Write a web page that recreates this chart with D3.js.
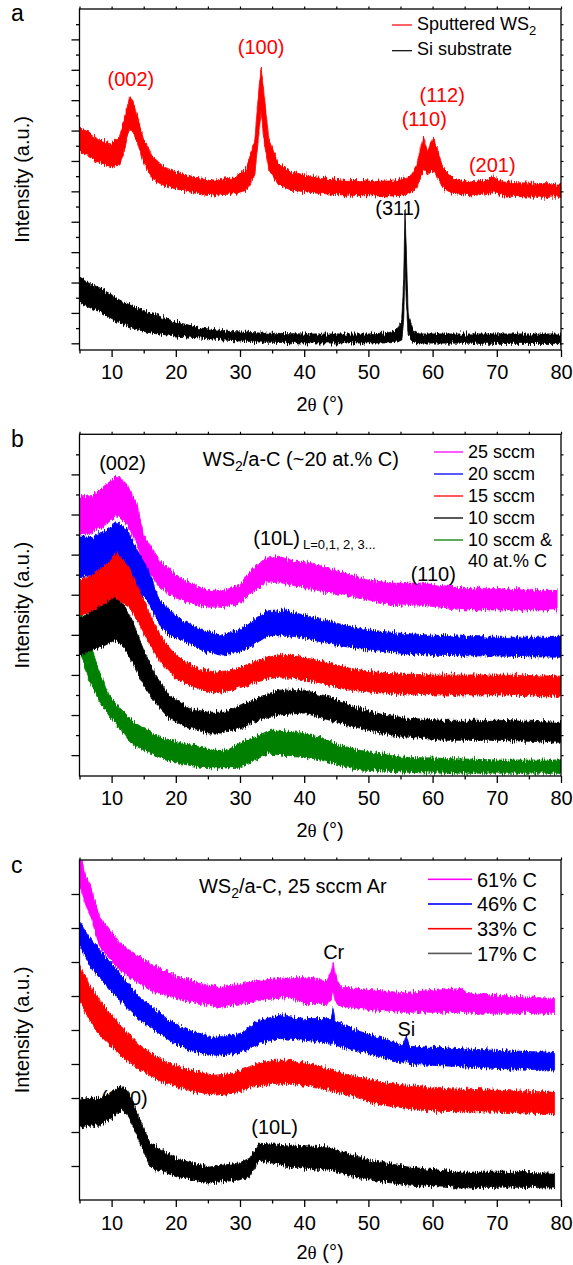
<!DOCTYPE html>
<html><head><meta charset="utf-8">
<script src="https://cdn.jsdelivr.net/npm/d3@7"></script>
<style>
body{margin:0;background:#fff}
text{font-family:"Liberation Sans",Arial,sans-serif}
</style>
</head><body>
<svg id="chart" width="573" height="1265"></svg>
<script>
// ---------------- DATA ----------------
const xTicksMajor = [10, 20, 30, 40, 50, 60, 70, 80];
const xTicksMinor = [5, 15, 25, 35, 45, 55, 65, 75];
const xTickLabels = ["10", "20", "30", "40", "50", "60", "70", "80"];

// each point: [2theta (deg), lower edge of noisy trace, upper edge] (intensity a.u.)
// Panel a
const aWS2 = [[5,62.9,70.8],[6.5,61.3,69.5],[8,59.6,66.9],[10,58.0,65.9],[11.3,58.7,68.5],[12,63.6,74.1],[12.8,70.8,81.0],[13.3,69.5,80.0],[14,66.2,75.1],[15,59.3,66.9],[16.5,53.7,61.3],[18,52.1,58.3],[20,50.8,56.3],[23,49.4,54.7],[26,48.8,53.7],[29,49.1,54.4],[31,50.4,57.7],[32.3,55.4,66.9],[33,70.2,85.0],[33.3,76.7,90.6],[33.7,66.9,83.3],[34.5,57.0,66.9],[36,52.1,59.3],[38,50.4,56.3],[42,49.4,54.7],[46,48.8,53.7],[50,48.5,53.4],[54,48.5,53.4],[56.5,49.1,55.0],[57.5,51.1,58.7],[58.1,54.4,64.2],[58.6,57.0,67.9],[59.2,55.4,63.0],[60.1,57.0,67.9],[60.8,54.4,63.6],[61.6,51.1,57.7],[63,49.4,54.4],[66,48.5,53.1],[68,49.1,53.7],[69.5,49.8,55.0],[71,48.5,53.1],[75,48.1,52.7],[80,48.1,52.4]];
const aSi = [[5,13.3,21.5],[6.5,11.8,19.8],[8.2,10.3,18.2],[10,8.2,16.0],[11.3,6.7,14.2],[13.5,4.8,12.0],[16,3.4,10.0],[20,2.4,7.0],[24,1.7,5.0],[28,1.0,4.0],[33,0.4,3.4],[40,0.1,3.1],[50,0.1,3.1],[53,0.1,3.4],[54.5,0.4,4.4],[55.2,1.1,7.7],[55.5,7.7,20.8],[55.7,27.4,43.9],[55.9,14.2,30.7],[56.2,2.7,9.3],[57,0.4,4.4],[58,0.1,3.1],[80,-0.1,3.1]];

// Panel b
const b25 = [[5,54.9,64.3],[7,55.4,64.8],[9,57.4,67.3],[11,59.9,69.8],[12.5,57.4,67.3],[14,52.4,62.3],[15,47.4,54.9],[17.5,41.9,48.6],[20,39.2,44.9],[22.2,37.9,42.9],[25,36.9,41.1],[27.5,36.9,41.1],[30,37.9,42.4],[32,40.6,46.6],[34,43.1,49.1],[36,43.1,49.6],[38,42.4,48.6],[42,41.1,47.4],[46,39.9,45.6],[50,38.7,43.6],[54,37.4,42.9],[58,37.4,42.9],[61,36.9,42.4],[65,36.2,41.6],[70,36.2,41.6],[75,36.2,41.1],[79.4,36.2,41.1]];
const b20 = [[5,44.4,54.4],[7,44.9,54.4],[9,46.1,56.1],[10.8,48.1,58.1],[12.5,46.1,56.1],[14,41.1,51.1],[15.5,38.7,46.9],[17.5,32.4,38.7],[19,29.9,36.2],[21,28.7,33.7],[24,26.2,31.2],[27,24.9,29.9],[30,25.7,31.2],[32,27.4,33.7],[34,29.4,35.7],[37,29.9,36.2],[40,29.2,34.9],[45,27.4,32.9],[50,26.2,31.2],[55,25.4,30.4],[60,24.9,29.9],[70,24.7,29.4],[80,24.4,29.4]];
const b15 = [[5,34.9,43.6],[7,35.7,44.9],[9,37.4,47.4],[10.8,38.7,50.4],[12.5,37.4,47.4],[14,33.7,42.4],[16,27.4,34.9],[18,22.4,28.7],[20,19.2,24.9],[23,16.7,21.9],[26,15.5,20.7],[29,16.2,21.2],[32,18.0,23.2],[35,19.2,24.9],[38,19.2,24.9],[42,18.2,23.7],[47,16.2,21.7],[52,15.5,20.4],[60,15.0,20.0],[70,15.0,20.0],[80,14.7,19.7]];
const b10 = [[5,24.9,34.2],[7,26.2,35.7],[9,27.4,37.9],[10.5,28.7,39.2],[12,26.7,37.4],[13.5,22.4,32.4],[15,17.5,26.2],[17,12.5,19.5],[19,9.2,15.0],[22,6.7,11.7],[25,5.5,10.7],[27,5.5,10.7],[30,6.7,12.2],[33,8.7,14.5],[36,10.0,16.2],[40,10.5,16.2],[44,8.7,14.5],[48,7.0,12.0],[52,5.5,10.2],[56,4.5,9.2],[62,3.7,8.7],[70,3.7,8.7],[80,3.2,8.2]];
const b10c40 = [[5,26.2,37.4],[6.5,18.7,28.7],[8,13.7,21.2],[9.75,9.5,14.5],[11.5,6.2,11.2],[13,3.0,8.7],[15,1.2,6.7],[17.5,-0.5,4.5],[21,-2.2,3.0],[23.8,-3.0,2.0],[26,-3.2,1.2],[28,-3.2,1.2],[30,-3.0,3.0],[33,-0.7,5.0],[34.6,0.5,6.2],[36.3,0.0,6.2],[39,-0.2,5.7],[42.5,-1.2,4.5],[45.5,-2.5,2.5],[48.7,-3.7,1.2],[55,-4.2,-0.5],[60,-4.5,-0.7],[70,-4.5,-1.2],[80,-4.5,-1.2]];

// Panel c
const c61 = [[5,82.4,92],[6,76.6,85.4],[6.6,74.2,83.0],[8.2,64.2,73.0],[11.3,57.5,65.4],[16,51.6,59.5],[20,49.3,56.0],[23.8,47.8,53.7],[26.9,46.6,52.5],[33,48.7,54.6],[37.6,49.6,55.4],[40,47.8,55.4],[43.5,47.8,54.6],[44.2,48.7,57.5],[44.5,51.6,59.8],[44.8,48.7,56.9],[45.5,47.2,53.1],[47,46.6,52.5],[55,45.2,51.0],[64.5,45.2,52.2],[65.5,44.9,50.7],[79,44.9,49.3]];
const c46 = [[5,64.8,72.2],[6.6,59.0,67.2],[8.2,55.1,63.4],[11.3,48.7,56.6],[14.4,42.8,49.6],[19,37.0,42.8],[22,34.0,39.9],[26,32.6,37.8],[30,33.1,39.0],[33,36.1,42.8],[36,37.5,44.3],[40,37.0,43.4],[44.2,36.1,43.4],[44.5,37.0,46.3],[44.8,35.5,42.8],[48,34.0,39.9],[52,32.0,37.8],[55.4,30.2,35.5],[55.9,31.1,38.5],[56.4,29.9,35.2],[60,29.6,34.9],[70,28.7,34.0],[79,28.2,33.4]];
const c33 = [[5,48.7,59.0],[6.6,42.8,53.1],[8.2,38.4,48.7],[11.3,32.6,41.4],[14.4,28.2,35.5],[18,24.6,31.1],[22,22.3,28.2],[26,20.8,26.7],[29,21.4,27.3],[32,23.2,29.6],[35,24.3,31.1],[38,24.3,31.1],[42,23.2,29.6],[47,20.8,26.7],[52,17.9,24.6],[60,16.1,22.9],[70,15.8,22.3],[79,15.3,21.7]];
const c17 = [[5,11.4,19.4],[6.5,12.0,19.9],[8.2,12.0,19.9],[10,14.1,21.7],[11.5,16.4,23.8],[12.5,15.0,22.3],[13.8,9.7,16.4],[16,-0.3,6.7],[20.6,-3.5,1.8],[25.2,-5.0,-0.3],[29.9,-4.1,0.9],[31.5,-2.9,2.3],[33,1.8,6.7],[37.6,-0.3,6.2],[43.8,-1.2,5.6],[50,-4.1,1.8],[56.2,-5.6,-0.3],[64,-6.5,-1.8],[71.7,-6.2,-1.8],[79,-6.5,-2.1]];

// series names
const namesA = ["Sputtered WS", "Si substrate"];
const namesB = ["25 sccm", "20 sccm", "15 sccm", "10 sccm", "10 sccm &"];
const namesC = ["61% C", "46% C", "33% C", "17% C"];

// annotations: [text, 2theta, intensity]
const annA = [["(002)",13.0,84.8,"#ff0000"],["(100)",33.3,95.2,"#ff0000"],["(112)",61.5,79.5,"#ff0000"],["(110)",58.7,71.5,"#ff0000"],["(201)",69.3,56.3,"#ff0000"],["(311)",54.6,42.2,"#000"]];
const annB = [["(002)",11.7,71.2],["(110)",60.1,43.4]];
const annC = [["Cr",44.6,61.0],["Si",55.9,38.1],["(200)",12.0,17.9],["(10L)",35.4,9.4]];

// ---------------- LAYOUT / STYLE ----------------
const RED = "#ff0000", BLK = "#000000", MAG = "#ff00ff", BLU = "#0000ff", GRN = "#008000";
const svg = d3.select("#chart");
const x = d3.scaleLinear().domain([5, 80]).range([79.5, 561]);

// rough-edge filter to render the noisy diffractogram texture
const defs = svg.append("defs");
const flt = defs.append("filter").attr("id", "noisy")
  .attr("x", "-2%").attr("y", "-30%").attr("width", "104%").attr("height", "160%");
flt.append("feTurbulence").attr("type", "fractalNoise").attr("baseFrequency", "0.9 0.12")
  .attr("numOctaves", 2).attr("seed", 7).attr("result", "t");
flt.append("feColorMatrix").attr("in", "t").attr("type", "matrix")
  .attr("values", "0 0 0 0 0.5  0 1 0 0 0  0 0 0 0 0  0 0 0 0 1").attr("result", "m");
flt.append("feDisplacementMap").attr("in", "SourceGraphic").attr("in2", "m")
  .attr("scale", 9).attr("xChannelSelector", "R").attr("yChannelSelector", "G");

const panels = [
  {letter:"a", top:9, bottom:350, yDomain:[-2.2,110], yMajor:d3.range(0,101,10), yMinor:d3.range(5,110,10),
   series:[{d:aSi,c:BLK},{d:aWS2,c:RED}], ann:annA},
  {letter:"b", top:434.3, bottom:776, yDomain:[-5.2,80], yMajor:d3.range(0,71,10), yMinor:d3.range(5,80,10),
   series:[{d:b10c40,c:GRN},{d:b25,c:MAG},{d:b20,c:BLU},{d:b15,c:RED},{d:b10,c:BLK}], ann:annB},
  {letter:"c", top:860, bottom:1200, yDomain:[-10,90], yMajor:d3.range(0,81,10), yMinor:[],
   series:[{d:c17,c:BLK},{d:c33,c:RED},{d:c46,c:BLU},{d:c61,c:MAG}], ann:annC}
];

const FONT = "Liberation Sans, Arial, sans-serif";
const x0 = x.range()[0], x1 = x.range()[1];

panels.forEach(p => {
  const y = d3.scaleLinear().domain(p.yDomain).range([p.bottom, p.top]);
  p.y = y;
  const clipId = "clip-" + p.letter;
  defs.append("clipPath").attr("id", clipId).append("rect")
    .attr("x", x0).attr("y", p.top).attr("width", x1 - x0).attr("height", p.bottom - p.top);

  const area = d3.area().x(d => x(d[0])).y0(d => y(d[1])).y1(d => y(d[2]));
  const gs = svg.append("g").attr("clip-path", `url(#${clipId})`);
  p.series.forEach(s => {
    gs.append("path").datum(s.d).attr("d", area)
      .attr("fill", s.c).attr("stroke", s.c).attr("stroke-width", 0.8)
      .attr("stroke-linejoin", "round").attr("filter", "url(#noisy)");
  });

  // bottom axis with labels
  const gb = svg.append("g").attr("transform", `translate(0,${p.bottom})`)
    .call(d3.axisBottom(x).tickValues(xTicksMajor).tickSize(7).tickFormat((d,i) => xTickLabels[i]));
  gb.select(".domain").remove();
  gb.selectAll("line").attr("stroke-width", 1.3);
  gb.selectAll("text").attr("y", p.letter === "c" ? 30 : 29).attr("dy", null)
    .attr("font-size", 20).attr("font-family", FONT).attr("fill", "#000");
  const gbm = svg.append("g").attr("transform", `translate(0,${p.bottom})`)
    .call(d3.axisBottom(x).tickValues(xTicksMinor).tickSize(3.5).tickFormat(""));
  gbm.select(".domain").remove();
  gbm.selectAll("line").attr("stroke-width", 1.3);

  // top axis small ticks
  const gt = svg.append("g").attr("transform", `translate(0,${p.top})`)
    .call(d3.axisTop(x).tickValues(xTicksMajor.concat(xTicksMinor)).tickSize(2.5).tickFormat(""));
  gt.select(".domain").remove();
  gt.selectAll("line").attr("stroke-width", 1.2);

  // left axis
  const gl = svg.append("g").attr("transform", `translate(${x0},0)`)
    .call(d3.axisLeft(y).tickValues(p.yMajor).tickSize(8).tickFormat(""));
  gl.select(".domain").remove();
  gl.selectAll("line").attr("stroke-width", 1.3);
  if (p.yMinor.length) {
    const glm = svg.append("g").attr("transform", `translate(${x0},0)`)
      .call(d3.axisLeft(y).tickValues(p.yMinor).tickSize(3.5).tickFormat(""));
    glm.select(".domain").remove();
    glm.selectAll("line").attr("stroke-width", 1.3);
  }
  // right axis small ticks
  const gr = svg.append("g").attr("transform", `translate(${x1},0)`)
    .call(d3.axisRight(y).tickValues(p.yMajor.concat(p.yMinor)).tickSize(2.5).tickFormat(""));
  gr.select(".domain").remove();
  gr.selectAll("line").attr("stroke-width", 1.2);

  // frame
  svg.append("rect").attr("x", x0).attr("y", p.top).attr("width", x1 - x0).attr("height", p.bottom - p.top)
    .attr("fill", "none").attr("stroke", "#000").attr("stroke-width", 1.3);

  // x title
  const xt = svg.append("text").attr("x", 320).attr("y", p.bottom + (p.letter === "c" ? 59 : 61))
    .attr("text-anchor", "middle").attr("font-size", 20);
  xt.append("tspan").text("2");
  xt.append("tspan").attr("font-family", "Liberation Serif, serif").attr("font-size", 19).text("\u03b8");
  xt.append("tspan").text(" (\u00b0)");

  // y title
  svg.append("text").attr("transform", `translate(29,${(p.top + p.bottom) / 2}) rotate(-90)`)
    .attr("text-anchor", "middle").attr("font-size", 20).text("Intensity (a.u.)");

  // panel letter
  svg.append("text").attr("x", 11).attr("y", p.top + (p.letter === "a" ? 12 : 13))
    .attr("font-size", 23).text(p.letter);

  // annotations
  p.ann.forEach(a => {
    svg.append("text").attr("x", x(a[1])).attr("y", y(a[2])).attr("text-anchor", "middle")
      .attr("font-size", 20).attr("fill", a[3] || "#000").text(a[0]);
  });
});

function legendLine(xa, xb, yy, col, w) {
  svg.append("rect").attr("x", xa).attr("width", xb - xa).attr("y", yy - w / 2).attr("height", w)
    .attr("fill", col).attr("stroke", "none");
}

// ---- panel a legend ----
{
  const items = [{n:namesA[0], c:RED, ly:25, ty:29.5, sub:true}, {n:namesA[1], c:BLK, ly:50.7, ty:55}];
  items.forEach(it => {
    legendLine(392, 412, it.ly, it.c, 1.2);
    const t = svg.append("text").attr("x", 417).attr("y", it.ty).attr("font-size", 18).text(it.n);
    if (it.sub) t.append("tspan").attr("dy", 5).attr("font-size", 13).text("2");
  });
}

// ---- panel b legend + notes ----
{
  const y = panels[1].y;
  const cols = [MAG, BLU, RED, BLK, GRN];
  namesB.forEach((n, i) => {
    const ly = 452 + i * 22;
    legendLine(434, 463, ly, cols[i], 1.3);
    svg.append("text").attr("x", 468).attr("y", ly + 5.5).attr("font-size", 18).text(n);
  });
  svg.append("text").attr("x", 468).attr("y", 567).attr("font-size", 18).text("40 at.% C");

  const t = svg.append("text").attr("x", x(24.2)).attr("y", y(72.1)).attr("font-size", 20);
  t.append("tspan").text("WS");
  t.append("tspan").attr("dy", 5).attr("font-size", 14).text("2");
  t.append("tspan").attr("dy", -5).text("/a-C (~20 at.% C)");

  svg.append("text").attr("x", x(35.7)).attr("y", y(52.4)).attr("font-size", 20).attr("text-anchor","middle").text("(10L)");
  svg.append("text").attr("x", 303).attr("y", y(52.4) + 4).attr("font-size", 13).text("L=0,1, 2, 3...");
}

// ---- panel c legend + notes ----
{
  const y = panels[2].y;
  const cols = [MAG, BLU, RED, "#555"];
  namesC.forEach((n, i) => {
    const ly = 879.3 + i * 24.7;
    legendLine(428, 472, ly, cols[i], 1.6);
    svg.append("text").attr("x", 477).attr("y", ly + 7.3).attr("font-size", 20).text(n);
  });
  const t = svg.append("text").attr("x", x(23.6)).attr("y", y(80.4)).attr("font-size", 20);
  t.append("tspan").text("WS");
  t.append("tspan").attr("dy", 5).attr("font-size", 14).text("2");
  t.append("tspan").attr("dy", -5).text("/a-C, 25 sccm Ar");
}
</script>
</body></html>
